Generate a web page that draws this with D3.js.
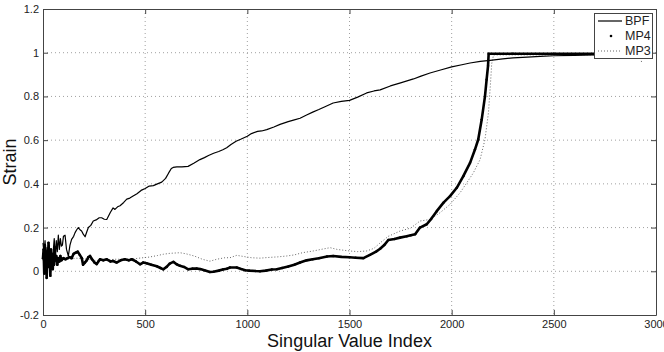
<!DOCTYPE html>
<html><head><meta charset="utf-8">
<script src="https://cdn.jsdelivr.net/npm/d3@7"></script>
<style>html,body{margin:0;padding:0;background:#fff;}svg{display:block;}</style>
</head><body>
<svg id="c" width="664" height="352"></svg>
<script>
const xTicks = [0,500,1000,1500,2000,2500,3000];
const xTickLabels = ["0","500","1000","1500","2000","2500","3000"];
const yTicks = [-0.2,0,0.2,0.4,0.6,0.8,1,1.2];
const yTickLabels = ["-0.2","0","0.2","0.4","0.6","0.8","1","1.2"];
const seriesNames = ["BPF","MP4","MP3"];

const bpfX = [0,5,10,15,20,25,30,35,40,45,50,55,60,65,70,75,80,85,90,95,100,108,115,124,132,140,150,157,165,173,181,189,197,206,214,222,234,246,260,275,287,300,312,330,343,352,365,377,395,410,425,441,460,480,500,520,540,560,581,600,615,628,637,655,680,710,740,768,790,810,835,860,880,899,920,945,970,1000,1020,1050,1070,1095,1130,1160,1200,1230,1258,1290,1320,1350,1380,1420,1460,1500,1540,1584,1620,1650,1700,1750,1813,1850,1894,1950,2000,2050,2090,2140,2188,2250,2300,2370,2433,2500,2600,2700,2800,2935];
const bpfY = [0.13,0.08,0.14,0.05,0.11,0.03,0.12,0.06,0.10,0.04,0.09,0.15,0.06,0.14,0.09,0.165,0.10,0.15,0.115,0.12,0.16,0.165,0.10,0.07,0.12,0.146,0.16,0.177,0.19,0.20,0.19,0.184,0.17,0.158,0.18,0.20,0.21,0.23,0.235,0.245,0.245,0.238,0.237,0.27,0.29,0.283,0.295,0.30,0.315,0.33,0.335,0.344,0.355,0.37,0.379,0.39,0.392,0.40,0.408,0.425,0.45,0.47,0.475,0.478,0.478,0.48,0.495,0.511,0.52,0.53,0.54,0.548,0.556,0.565,0.58,0.595,0.605,0.618,0.63,0.64,0.642,0.648,0.66,0.672,0.685,0.693,0.70,0.715,0.728,0.74,0.753,0.77,0.777,0.782,0.797,0.816,0.825,0.83,0.848,0.862,0.88,0.893,0.907,0.922,0.935,0.945,0.953,0.96,0.965,0.972,0.976,0.98,0.983,0.986,0.988,0.99,0.99,0.99];

const mp4X = [0,3,6,9,12,15,18,21,24,27,30,33,36,39,42,45,48,51,54,57,60,65,70,75,80,85,90,100,110,120,130,140,150,160,170,180,190,196,205,214,222,230,240,252,263,279,295,312,330,343,360,380,400,420,434,455,475,490,507,530,557,575,589,605,620,638,654,670,690,711,730,752,770,790,817,834,860,880,900,915,948,970,990,1010,1040,1062,1090,1120,1144,1170,1200,1230,1258,1290,1320,1350,1390,1420,1460,1500,1530,1568,1600,1630,1650,1670,1690,1720,1747,1780,1800,1821,1845,1878,1900,1927,1960,1992,2025,2057,2090,2114,2130,2147,2163,2171,2178,2181,2300,2500,2700,2935];
const mp4Y = [0.06,0.10,-0.01,0.12,0.03,0.08,-0.03,0.09,0.02,0.13,0.04,0.07,-0.02,0.10,0.03,0.06,0.01,0.08,0.03,0.11,0.05,0.07,0.03,0.06,0.045,0.07,0.05,0.06,0.055,0.06,0.065,0.06,0.08,0.085,0.09,0.075,0.06,0.03,0.04,0.05,0.065,0.07,0.055,0.04,0.033,0.055,0.05,0.055,0.045,0.047,0.04,0.05,0.055,0.05,0.055,0.045,0.032,0.04,0.037,0.03,0.023,0.015,0.009,0.02,0.035,0.043,0.032,0.025,0.02,0.009,0.012,0.013,0.01,0.005,-0.003,-0.002,0.003,0.008,0.012,0.017,0.017,0.01,0.005,0.003,0.001,0.0,0.003,0.008,0.009,0.015,0.022,0.03,0.04,0.05,0.055,0.06,0.068,0.07,0.066,0.064,0.062,0.06,0.075,0.09,0.103,0.12,0.143,0.148,0.154,0.16,0.165,0.169,0.2,0.215,0.24,0.275,0.314,0.344,0.382,0.435,0.496,0.557,0.603,0.694,0.80,0.877,0.94,0.995,0.995,0.995,0.995,0.995];

const mp3X = [0,10,20,30,40,50,60,80,100,130,160,200,250,300,350,400,426,470,520,560,589,620,670,700,740,780,817,850,890,915,948,980,1020,1062,1100,1150,1193,1230,1270,1323,1360,1405,1440,1500,1540,1584,1620,1650,1690,1747,1800,1845,1894,1943,1992,2041,2074,2106,2139,2163,2180,2190,2196,2205,2400,2700,2925,2930];
const mp3Y = [0.05,0.07,0.04,0.08,0.05,0.07,0.06,0.065,0.06,0.055,0.06,0.058,0.05,0.05,0.055,0.055,0.055,0.06,0.065,0.072,0.078,0.082,0.085,0.08,0.07,0.055,0.046,0.055,0.062,0.062,0.073,0.068,0.062,0.06,0.063,0.066,0.07,0.075,0.085,0.093,0.10,0.108,0.10,0.093,0.09,0.093,0.105,0.13,0.16,0.184,0.198,0.23,0.237,0.268,0.306,0.359,0.405,0.45,0.511,0.603,0.725,0.86,0.95,0.99,0.99,0.99,0.99,0.95];

const L = 43, R = 656, T = 9, B = 315;
const svg = d3.select("#c");
const font = "'Liberation Sans', Arial, sans-serif";

const x = d3.scaleLinear().domain([0,3000]).range([L,R]);
const y = d3.scaleLinear().domain([-0.2,1.2]).range([B,T]);

// grid
const g = svg.append("g");
g.selectAll("line.gx").data(xTicks.slice(1,-1)).join("line")
  .attr("x1",d=>x(d)).attr("x2",d=>x(d)).attr("y1",T).attr("y2",B)
  .attr("stroke","#a0a0a0").attr("stroke-width",1).attr("stroke-dasharray","1,3");
g.selectAll("line.gy").data(yTicks.slice(1,-1)).join("line")
  .attr("x1",L).attr("x2",R).attr("y1",d=>y(d)).attr("y2",d=>y(d))
  .attr("stroke","#a0a0a0").attr("stroke-width",1).attr("stroke-dasharray","1,3");

// axes via d3 axis, ticks inward
const xAxis = d3.axisBottom(x).tickValues(xTicks).tickFormat((d,i)=>xTickLabels[i]).tickSizeInner(-5).tickSizeOuter(0).tickPadding(5);
const yAxis = d3.axisLeft(y).tickValues(yTicks).tickFormat((d,i)=>yTickLabels[i]).tickSizeInner(-5).tickSizeOuter(0).tickPadding(4);
const gx = svg.append("g").attr("transform",`translate(0,${B})`).call(xAxis);
const gy = svg.append("g").attr("transform",`translate(${L},0)`).call(yAxis);
const gx2 = svg.append("g").attr("transform",`translate(0,${T})`).call(d3.axisTop(x).tickValues(xTicks).tickFormat("").tickSizeInner(-5).tickSizeOuter(0));
const gy2 = svg.append("g").attr("transform",`translate(${R},0)`).call(d3.axisRight(y).tickValues(yTicks).tickFormat("").tickSizeInner(-5).tickSizeOuter(0));
[gx,gy,gx2,gy2].forEach(a=>{
  a.select(".domain").attr("stroke","#444");
  a.selectAll(".tick line").attr("stroke","#444");
  a.selectAll(".tick text").attr("fill","#222").style("font-family",font).style("font-size","11px");
});

// series
const line = d3.line().x(d=>x(d[0])).y(d=>y(d[1]));
const bpf = bpfX.map((v,i)=>[v,bpfY[i]]);
const mp4 = mp4X.map((v,i)=>[v,mp4Y[i]]);
const mp3 = mp3X.map((v,i)=>[v,mp3Y[i]]);

svg.append("path").datum(mp3).attr("d",line).attr("fill","none")
  .attr("stroke","#666").attr("stroke-width",1).attr("stroke-dasharray","1,2");
svg.append("path").datum(mp4).attr("d",line).attr("fill","none")
  .attr("stroke","#000").attr("stroke-width",2.6).attr("stroke-linejoin","round").attr("stroke-linecap","round");
svg.append("g").selectAll("circle").data(mp4).join("circle")
  .attr("cx",d=>x(d[0])).attr("cy",d=>y(d[1])).attr("r",1.2).attr("fill","#000");
svg.append("path").datum(bpf).attr("d",line).attr("fill","none")
  .attr("stroke","#000").attr("stroke-width",1.2).attr("stroke-linejoin","round");

// legend
const lg = svg.append("g");
lg.append("rect").attr("x",594.5).attr("y",13.5).attr("width",58).attr("height",45)
  .attr("fill","#fff").attr("stroke","#444").attr("stroke-width",1);
const ly = [21,36,51];
lg.append("line").attr("x1",598).attr("x2",622).attr("y1",ly[0]).attr("y2",ly[0]).attr("stroke","#000").attr("stroke-width",1.2);
lg.append("circle").attr("cx",611).attr("cy",ly[1]).attr("r",1.3).attr("fill","#000");
lg.append("line").attr("x1",598).attr("x2",622).attr("y1",ly[2]).attr("y2",ly[2]).attr("stroke","#666").attr("stroke-width",1).attr("stroke-dasharray","1,2");
lg.selectAll("text").data(seriesNames).join("text")
  .attr("x",625).attr("y",(d,i)=>ly[i]).attr("dy","0.35em")
  .style("font-family",font).style("font-size","12.5px").attr("fill","#222").text(d=>d);

// axis titles
svg.append("text").attr("x",(L+R)/2).attr("y",347).attr("text-anchor","middle")
  .style("font-family",font).style("font-size","18px").attr("fill","#111").text("Singular Value Index");
svg.append("text").attr("transform",`translate(16,162) rotate(-90)`).attr("text-anchor","middle")
  .style("font-family",font).style("font-size","18px").attr("fill","#111").text("Strain");
</script>
</body></html>
